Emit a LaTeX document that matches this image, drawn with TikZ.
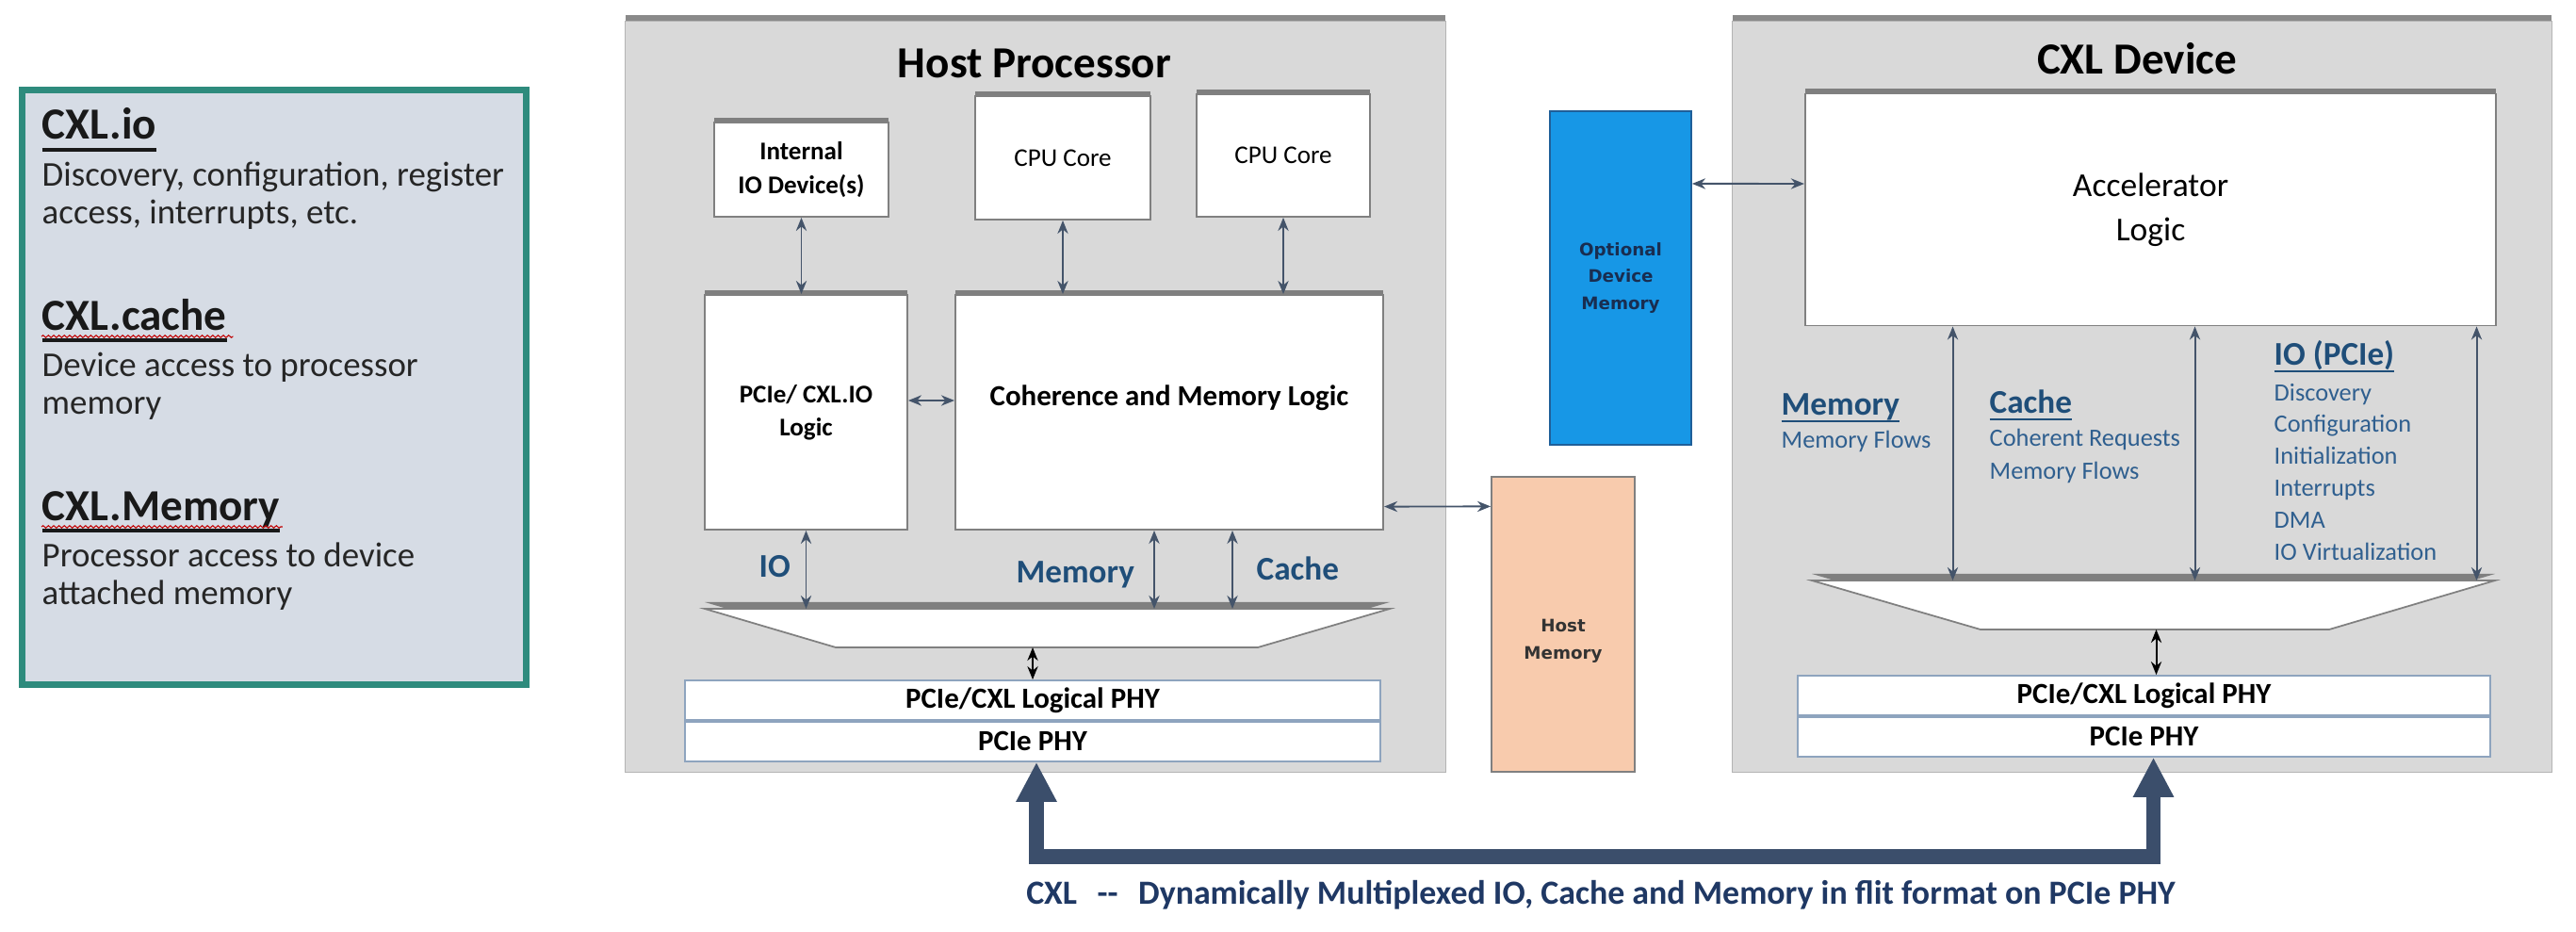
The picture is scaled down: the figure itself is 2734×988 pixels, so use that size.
\documentclass[tikz,border=0pt]{standalone}
\usepackage{fontspec}
\setmainfont{Carlito}
\newfontfamily\verdfont{DejaVu Sans}
\usepackage{tikz}
\usetikzlibrary{arrows.meta, positioning, calc, shadows, decorations.pathmorphing}

\definecolor{panelgrey}{HTML}{D9D9D9}
\definecolor{panelline}{HTML}{B4B4B4}
\definecolor{boxline}{HTML}{808080}
\definecolor{linkcol}{HTML}{44546A}
\definecolor{labelblue}{HTML}{1F4E79}
\definecolor{itemblue}{HTML}{2F5F8F}
\definecolor{devblue}{HTML}{1797E6}
\definecolor{devblueline}{HTML}{1F5F99}
\definecolor{hostpeach}{HTML}{F8CBAD}
\definecolor{legendteal}{HTML}{2E8B7D}
\definecolor{legendfill}{HTML}{D6DCE5}
\definecolor{busblue}{HTML}{3B4E6B}
\definecolor{captionblue}{HTML}{1F3864}
\definecolor{phyline}{HTML}{8EA4BE}

\newcommand{\fsz}[2]{\fontsize{#1}{#2}\selectfont}
\newcommand{\ulbar}[3]{\setbox0\hbox{#3}\rlap{\rule[#1]{\wd0}{#2}}\box0}

\begin{document}
\begin{tikzpicture}[
    x=0.01cm, y=-0.01cm,
    >={Stealth[length=4pt, width=3.2pt]},
    panel/.style={draw=panelline, fill=panelgrey, line width=0.4pt, general shadow={fill=black!65, shadow yshift=2pt, opacity=0.7}},
    whitebox/.style={draw=boxline, fill=white, line width=0.5pt, inner sep=0pt, align=center, general shadow={fill=black!65, shadow yshift=1.5pt, opacity=0.7}},
    mux/.style={draw=boxline, fill=white, line width=0.5pt, general shadow={fill=black!65, shadow yshift=2pt, opacity=0.7}},
    phybox/.style={draw=phyline, fill=white, line width=0.5pt, inner sep=0pt, minimum height=0.42cm, font=\fsz{8.8pt}{10pt}\bfseries},
    title/.style={inner sep=0pt, font=\fsz{13.4pt}{16pt}\bfseries},
    head/.style={inner sep=0pt, anchor=base west, text=black!90, font=\fsz{13.4pt}{16pt}\bfseries},
    body/.style={inner sep=0pt, anchor=base west, text=black!85, font=\fsz{10.5pt}{12pt}},
    buslabel/.style={inner sep=0pt, anchor=base west, text=labelblue, font=\fsz{10pt}{12pt}\bfseries},
    devitem/.style={inner sep=0pt, anchor=base west, text=itemblue, font=\fsz{7.5pt}{9pt}},
    memfont/.style={font=\verdfont\bfseries\fsz{5.2pt}{8.1pt}, align=center},
    link/.style={<->, draw=linkcol, line width=0.55pt},
    phylink/.style={<->, draw=black, line width=0.55pt},
    bus/.style={{Triangle[width=11.5pt, length=12pt]}-{Triangle[width=11.5pt, length=12pt]}, draw=busblue, line width=4.5pt, line join=miter},
    squiggle/.style={draw=red!75!black, line width=0.3pt, decorate, decoration={snake, amplitude=0.35pt, segment length=1.6pt}}
]
\path[use as bounding box, fill=white] (0,0) rectangle (2734,988);

% legend
\node (legend) [draw=legendteal, line width=2pt, fill=legendfill, minimum width=5.35cm, minimum height=6.31cm] at (291,411) {};
\node (io)        [head] at (44,148) {\ulbar{-3.7pt}{1.1pt}{CXL.io}};
\node (iotxta)    [body] at (44,197) {Discovery, configuration, register};
\node (iotxtb)    [body] at (44,237) {access, interrupts, etc.};
\node (cache)     [head] at (44,350) {\ulbar{-3.7pt}{1.1pt}{CXL.cache}};
\node (cachetxta) [body] at (44,399) {Device access to processor};
\node (cachetxtb) [body] at (44,439) {memory};
\node (mem)       [head] at (44,552) {\ulbar{-3.7pt}{1.1pt}{CXL.Memory}};
\node (memtxta)   [body] at (44,601) {Processor access to device};
\node (memtxtb)   [body] at (44,641) {attached memory};
\draw[squiggle] ($(cache.base west)+(0,7)$) -- ($(cache.base east)+(6,7)$);
\draw[squiggle] ($(mem.base west)+(0,7)$) -- ($(mem.base east)+(2,7)$);

% host processor
\node (host) [panel, minimum width=8.70cm, minimum height=7.96cm] at (1099,421) {};
\node (hosttitle) [title, anchor=base] at (1098,83) {Host Processor};
\node (intio)   [whitebox, minimum width=1.85cm, minimum height=1cm, font=\fsz{7.7pt}{10pt}\bfseries] at (850.5,180) {Internal\\IO Device(s)};
\node (cpua)    [whitebox, minimum width=1.86cm, minimum height=1.31cm, font=\fsz{7.7pt}{10pt}] at (1128,167.5) {CPU Core};
\node (cpub)    [whitebox, minimum width=1.84cm, minimum height=1.30cm, font=\fsz{7.7pt}{10pt}] at (1362,165) {CPU Core};
\node (iologic) [whitebox, minimum width=2.15cm, minimum height=2.49cm, font=\fsz{7.7pt}{10pt}\bfseries] at (855.5,437.5) {PCIe/ CXL.IO\\Logic};
\node (coh)     [whitebox, minimum width=4.54cm, minimum height=2.49cm,
                 label={[font=\fsz{8.8pt}{10pt}\bfseries, yshift=0.15cm]center:Coherence and Memory Logic}] at (1241,437.5) {};
% host mux
\coordinate (hmuxnw) at (748,646);
\coordinate (hmuxne) at (1475,646);
\coordinate (hmuxse) at (1335,687);
\coordinate (hmuxsw) at (887,687);
\draw[mux] (hmuxnw) -- (hmuxne) -- (hmuxse) -- (hmuxsw) -- cycle;
\node (iolbl)    [buslabel] at (805,612) {IO};
\node (memlbl)   [buslabel] at (1078,618) {Memory};
\node (cachelbl) [buslabel] at (1333,615) {Cache};
\node (hlogphy) [phybox, minimum width=7.38cm] at (1096,743) {PCIe/CXL Logical PHY};
\node (hphy)    [phybox, minimum width=7.38cm, below=0pt of hlogphy] {PCIe PHY};

% memories
\node (optmem)  [draw=devblueline, fill=devblue, line width=0.5pt, text=captionblue!80!black, minimum width=1.5cm, minimum height=3.54cm, memfont] at (1720,295) {Optional\\Device\\Memory};
\node (hostmem) [draw=boxline, fill=hostpeach, line width=0.5pt, minimum width=1.52cm, minimum height=3.13cm,
                 label={[memfont, text=black!80, yshift=-0.18cm]center:Host\\Memory}] at (1659,662.5) {};

% cxl device
\node (dev) [panel, minimum width=8.69cm, minimum height=7.96cm] at (2273.5,421) {};
\node (devtitle) [title, anchor=base] at (2268,79) {CXL Device};
\node (accel)   [whitebox, minimum width=7.33cm, minimum height=2.46cm, font=\fsz{10.1pt}{13.4pt}] at (2282.5,222.5) {Accelerator\\Logic};
% device mux
\coordinate (dmuxnw) at (1923,616);
\coordinate (dmuxne) at (2648,616);
\coordinate (dmuxse) at (2472,668);
\coordinate (dmuxsw) at (2102,668);
\draw[mux] (dmuxnw) -- (dmuxne) -- (dmuxse) -- (dmuxsw) -- cycle;
\node (memhd)      [buslabel] at (1890,440) {\ulbar{-2.2pt}{0.5pt}{Memory}};
\node (memflows)   [devitem]  at (1890,475) {Memory Flows};
\node (cachehd)    [buslabel] at (2111,438) {\ulbar{-2.2pt}{0.5pt}{Cache}};
\node (cachereq)   [devitem]  at (2111,473) {Coherent Requests};
\node (cacheflows) [devitem]  at (2111,508) {Memory Flows};
\node (iohd)       [buslabel] at (2413,387) {\ulbar{-2.2pt}{0.5pt}{IO (PCIe)}};
\node (iodisc)     [devitem]  at (2413,425) {Discovery};
\node (ioconf)     [devitem]  at (2413,458) {Configuration};
\node (ioinit)     [devitem]  at (2413,492) {Initialization};
\node (ioirq)      [devitem]  at (2413,526) {Interrupts};
\node (iodma)      [devitem]  at (2413,560) {DMA};
\node (iovirt)     [devitem]  at (2413,594) {IO Virtualization};
\node (dlogphy) [phybox, minimum width=7.35cm] at (2275.5,738) {PCIe/CXL Logical PHY};
\node (dphy)    [phybox, minimum width=7.35cm, below=0pt of dlogphy] {PCIe PHY};

% host links
\draw[link] (intio.south) -- (intio.south |- iologic.north);
\draw[link] (cpua.south) -- (cpua.south |- coh.north);
\draw[link] (cpub.south) -- (cpub.south |- coh.north);
\draw[link] ([yshift=0.125cm]iologic.east) -- ([yshift=0.125cm]coh.west);
\draw[link] ([yshift=-1cm]coh.east) -- ([yshift=1.25cm]hostmem.west);
\draw[link] (iologic.south) -- (iologic.south |- hmuxnw);
\draw[link] ($(coh.south)+(-16,0)$) -- ($(coh.south |- hmuxnw)+(-16,0)$);
\draw[link] ($(coh.south)+(67,0)$) -- ($(coh.south |- hmuxnw)+(67,0)$);
\draw[phylink] (hlogphy.north |- hmuxsw) -- (hlogphy.north);

% device links
\draw[link] ([yshift=1cm]optmem.east) -- ([yshift=0.275cm]accel.west);
\draw[link] ($(accel.south)+(-210,0)$) -- ($(accel.south |- dmuxnw)+(-210,0)$);
\draw[link] ($(accel.south)+(47,0)$) -- ($(accel.south |- dmuxnw)+(47,0)$);
\draw[link] ($(accel.south)+(346,0)$) -- ($(accel.south |- dmuxnw)+(346,0)$);
\draw[phylink] ($(dlogphy.north |- dmuxsw)+(13,0)$) -- ($(dlogphy.north)+(13,0)$);

% cxl bus
\draw[bus] ($(hphy.south)+(4,0)$) -- ++(0,100) -| ($(dphy.south)+(10,0)$);
\node (caption) [anchor=base, text=captionblue, font=\fsz{10.2pt}{12pt}\bfseries] at (1699,959) {CXL\hspace{0.6em}-{}-\hspace{0.6em}Dynamically Multiplexed IO, Cache and Memory in flit format on PCIe PHY};

\end{tikzpicture}
\end{document}
